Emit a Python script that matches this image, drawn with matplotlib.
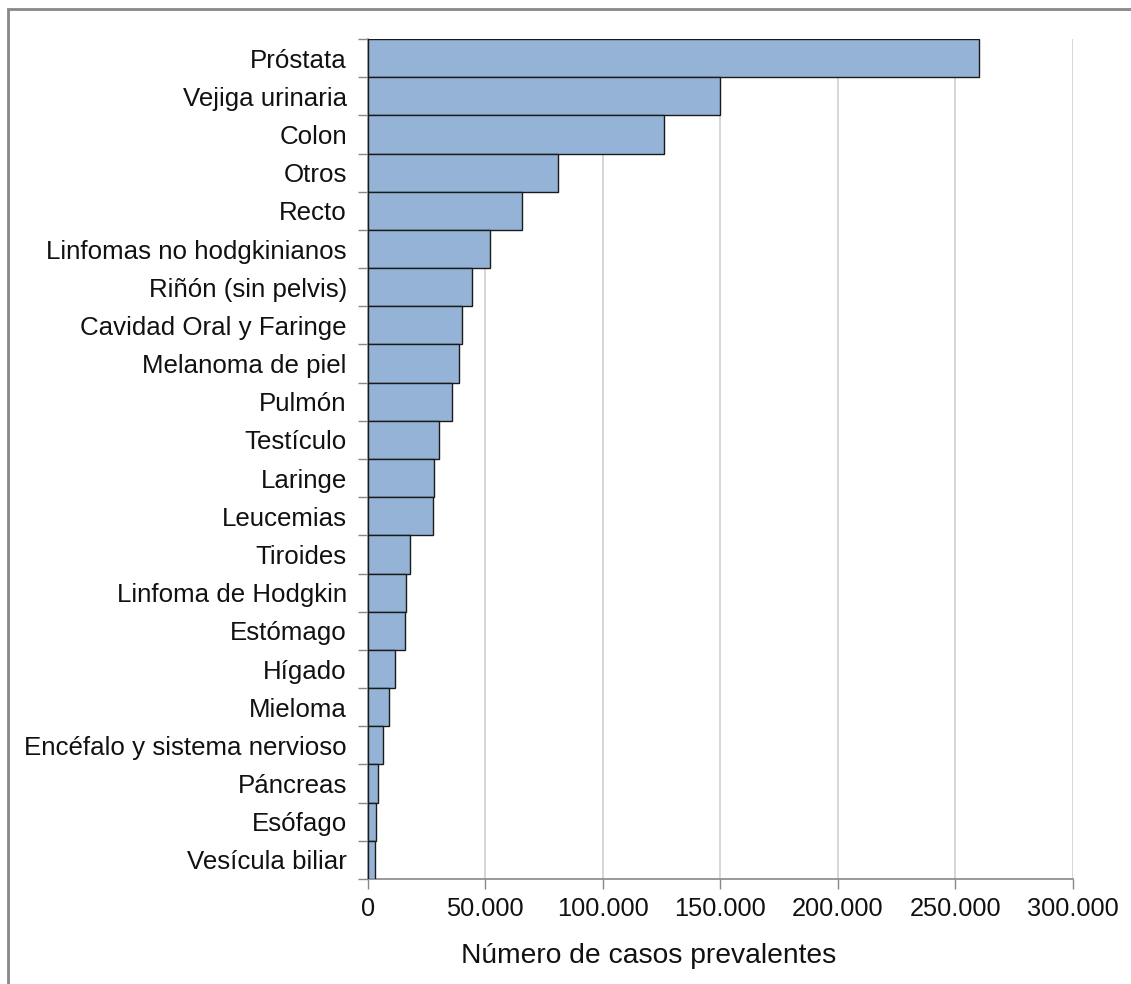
import matplotlib
matplotlib.use("Agg")
import matplotlib.pyplot as plt
from matplotlib.ticker import FuncFormatter, FixedLocator
from matplotlib.patches import Rectangle

plt.rcParams['font.family'] = ['Liberation Sans', 'DejaVu Sans']

categories = ["Próstata", "Vejiga urinaria", "Colon", "Otros", "Recto",
              "Linfomas no hodgkinianos", "Riñón (sin pelvis)", "Cavidad Oral y Faringe",
              "Melanoma de piel", "Pulmón", "Testículo", "Laringe", "Leucemias",
              "Tiroides", "Linfoma de Hodgkin", "Estómago", "Hígado", "Mieloma",
              "Encéfalo y sistema nervioso", "Páncreas", "Esófago", "Vesícula biliar"]
values = [260000, 150000, 126100, 81000, 65600, 52000, 44300, 40000, 38900, 35800,
          30500, 28400, 27800, 17800, 16400, 15800, 11600, 9000, 6300, 4200, 3600, 3100]
xticks = [0, 50000, 100000, 150000, 200000, 250000, 300000]
xlabel = "Número de casos prevalentes"

W, H = 1131, 984
fig = plt.figure(figsize=(W / 100, H / 100), dpi=100)
L, R, T, B = 367.7, 1073, 39, 879
ax = fig.add_axes([L / W, 1 - B / H, (R - L) / W, (B - T) / H])

n = len(categories)
ypos = list(range(n))
ax.barh(ypos, values, height=1.0, color='#95b3d7', edgecolor='#1a1a1a', linewidth=1.0, zorder=3)
ax.set_ylim(n - 0.5, -0.5)
ax.set_xlim(0, 300000)

ax.set_yticks(ypos)
ax.set_yticklabels(categories, fontsize=18.6, color='#111111')
ax.yaxis.set_minor_locator(FixedLocator([i - 0.5 for i in range(n + 1)]))
ax.tick_params(axis='y', which='major', length=0, pad=15)
ax.tick_params(axis='y', which='minor', length=7, color='#888888', width=1)

ax.set_xticks(xticks)
ax.xaxis.set_major_formatter(FuncFormatter(lambda v, p: f"{int(v):,}".replace(",", ".")))
ax.tick_params(axis='x', which='major', length=7, color='#888888', width=1, labelsize=18.3,
               pad=6, labelcolor='#111111')
ax.grid(axis='x', color='#d0d0d0', linewidth=1.2, zorder=0)
ax.set_axisbelow(True)

for s in ['top', 'right']:
    ax.spines[s].set_visible(False)
for s in ['left', 'bottom']:
    ax.spines[s].set_color('#888888')
    ax.spines[s].set_linewidth(1.2)

ax.set_xlabel(xlabel, fontsize=20.3, color='#111111', labelpad=10)
ax.xaxis.set_label_coords((649 - L) / (R - L), -(963 - B) / (B - T) * 1.0)
ax.xaxis.label.set_va('baseline')

# outer chart border
fig.patches.append(Rectangle((8 / W, -0.01), 1.2, 1 - 9 / H + 0.01, transform=fig.transFigure,
                             fill=False, edgecolor='#888888', linewidth=2))

fig.savefig("out.png", dpi=100)
